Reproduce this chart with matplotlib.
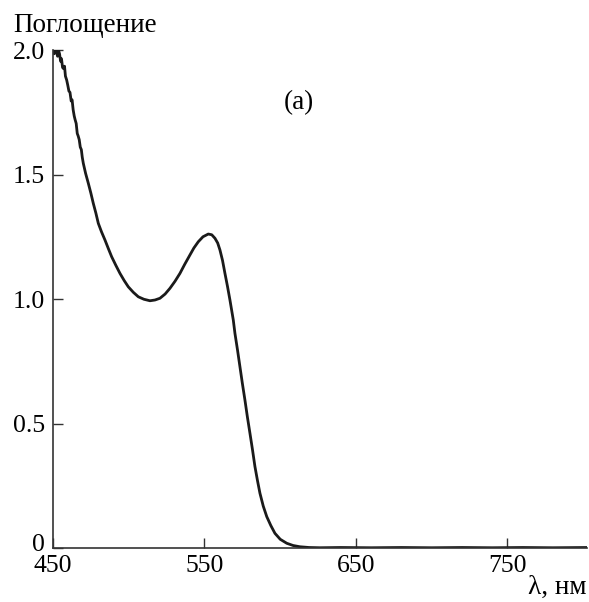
import matplotlib

matplotlib.use("Agg")
import matplotlib.pyplot as plt
from matplotlib.transforms import ScaledTranslation

# wavelength (nm) and absorbance
wavelength = [
    450.0, 450.8, 451.5, 452.3, 453.0, 453.6, 454.3, 455.0, 455.6, 456.3,
    457.0, 457.6, 458.2, 459.0, 459.7, 460.5, 461.2, 462.0, 462.6, 463.3,
    464.0, 464.6, 465.3, 466.0, 466.6, 467.3, 468.0, 468.7, 469.3, 470.0,
    471.5, 473.3, 475.0, 476.6, 478.3, 479.9, 482.0, 484.3, 486.5, 488.7,
    491.5, 494.2, 497.0, 499.7, 503.0, 506.3, 510.0, 514.0, 517.3, 520.6,
    524.0, 527.2, 530.5, 533.8, 537.0, 540.4, 543.0, 545.9, 549.0, 552.5,
    554.8, 556.9, 558.7, 560.2, 561.9, 563.5, 565.2, 566.8, 569.0, 570.1,
    571.8, 573.4, 575.0, 576.7, 578.3, 580.0, 581.7, 583.3, 585.0, 586.6,
    588.8, 591.1, 593.8, 596.5, 600.0, 604.3, 608.5, 613.0, 619.0, 626.2,
    640.0, 660.0, 680.0, 700.0, 720.0, 740.0, 760.0, 780.0, 802.0,
]
absorbance = [
    2.000, 1.985, 2.000, 1.995, 1.975, 2.000, 1.985, 1.955, 1.965, 1.930,
    1.925, 1.935, 1.895, 1.880, 1.860, 1.835, 1.830, 1.795, 1.800, 1.760,
    1.735, 1.720, 1.705, 1.665, 1.655, 1.640, 1.610, 1.600, 1.570, 1.545,
    1.505, 1.465, 1.425, 1.384, 1.345, 1.304, 1.270, 1.237, 1.203, 1.170,
    1.135, 1.103, 1.074, 1.049, 1.027, 1.009, 0.999, 0.993, 0.996, 1.003,
    1.020, 1.043, 1.071, 1.103, 1.140, 1.177, 1.205, 1.230, 1.250, 1.261,
    1.258, 1.244, 1.225, 1.197, 1.155, 1.103, 1.050, 0.996, 0.916, 0.862,
    0.795, 0.728, 0.661, 0.594, 0.527, 0.461, 0.394, 0.327, 0.270, 0.220,
    0.168, 0.126, 0.090, 0.059, 0.035, 0.019, 0.010, 0.005, 0.002, 0.001,
    0.002, 0.001, 0.002, 0.001, 0.002, 0.001, 0.002, 0.001, 0.002,
]

x_ticks = [450, 550, 650, 750]
y_ticks = [0, 0.5, 1.0, 1.5, 2.0]
y_tick_labels = ["0", "0.5", "1.0", "1.5", "2.0"]

plt.rcParams["font.family"] = ["Liberation Serif", "DejaVu Serif"]

fig = plt.figure(figsize=(5.89, 6.02), dpi=100)
ax = fig.add_axes([0.090, 0.0897, 0.9066, 0.8272])

ax.plot(wavelength, absorbance, color="#1a1a1a", linewidth=2.0)

ax.set_xlim(450, 802.5)
ax.set_ylim(0, 2.0)
ax.set_xticks(x_ticks)
ax.set_xticklabels([str(v) for v in x_ticks])
ax.set_yticks(y_ticks)
ax.set_yticklabels(y_tick_labels)
ax.tick_params(direction="in", length=7, width=1, labelsize=18.5, color="#333333")
ax.tick_params(axis="x", pad=5)
ax.tick_params(axis="y", pad=6)
for spine in ("top", "right"):
    ax.spines[spine].set_visible(False)
for spine in ("left", "bottom"):
    ax.spines[spine].set_color("#333333")
    ax.spines[spine].set_linewidth(1.2)

# the "0" sits a little above the corner so it clears "450"
zero_label = ax.get_yticklabels()[0]
zero_label.set_transform(zero_label.get_transform()
                         + ScaledTranslation(0, 4 / 72, fig.dpi_scale_trans))

ax.text(612, 1.79, "(a)", fontsize=19.5, ha="center", va="center")
fig.text(0.022, 0.947, "Поглощение", fontsize=19.5, ha="left", va="baseline")
fig.text(0.995, 0.014, "λ, нм", fontsize=19.5, ha="right", va="baseline")

fig.savefig("out.png", facecolor="white")
